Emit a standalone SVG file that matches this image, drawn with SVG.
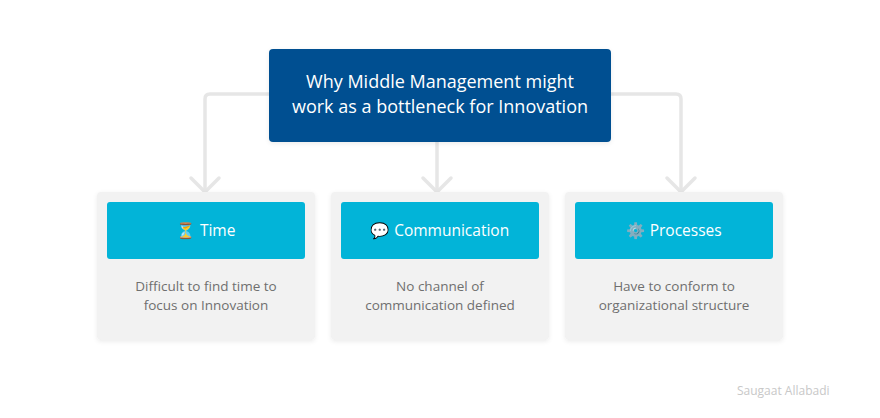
<svg xmlns="http://www.w3.org/2000/svg" width="880" height="418" viewBox="0 0 880 418">
  <defs>
    <filter id="shadow" x="-10%" y="-10%" width="120%" height="125%">
      <feDropShadow dx="0" dy="1.5" stdDeviation="2" flood-color="#000" flood-opacity="0.08"/>
    </filter>
    <marker id="chev" viewBox="-3 -3 20 34" refX="14" refY="14" markerWidth="20" markerHeight="34" markerUnits="userSpaceOnUse" orient="auto">
      <path d="M0,0 L14,14 L0,28" fill="none" stroke="#e6e6e6" stroke-width="3.5" stroke-linecap="round" stroke-linejoin="round"/>
    </marker>
    <style>
      .conn { fill: none; stroke: #e6e6e6; stroke-width: 3.5; stroke-linecap: round; stroke-linejoin: round; }
      .card { fill: #f2f2f2; filter: url(#shadow); }
      .head { fill: #02b4d8; }
      .title { font-family: "Open Sans", "Noto Sans", sans-serif; font-size: 18px; fill: #ffffff; text-anchor: middle; }
      .htext { font-family: "Open Sans", "Noto Sans", "Noto Color Emoji", sans-serif; font-size: 15.5px; fill: #ffffff; text-anchor: middle; }
      .body { font-family: "Open Sans", "Noto Sans", sans-serif; font-size: 13.5px; fill: #6f6f6f; text-anchor: middle; }
      .wm { font-family: "Open Sans", "Noto Sans", sans-serif; font-size: 12px; fill: #c8c8c8; }
    </style>
  </defs>
  <rect width="880" height="418" fill="#ffffff"/>

  <g id="connectors">
    <path class="conn" d="M269,94 L210,94 Q205,94 205,99 L205,192" marker-end="url(#chev)"/>
    <path class="conn" d="M437,142 L437,192" marker-end="url(#chev)"/>
    <path class="conn" d="M611,94 L676,94 Q681,94 681,99 L681,192" marker-end="url(#chev)"/>
  </g>

  <g id="root">
    <rect x="269" y="49" width="342" height="93" rx="4" fill="#034f91" filter="url(#shadow)"/>
    <text class="title" x="440" y="88">Why Middle Management might</text>
    <text class="title" x="440" y="113">work as a bottleneck for Innovation</text>
  </g>

  <g id="time">
    <rect class="card" x="97" y="192" width="218" height="148" rx="4"/>
    <rect class="head" x="107" y="202" width="198" height="57" rx="3"/>
    <text class="htext" x="206" y="236">⏳ Time</text>
    <text class="body" x="206" y="291">Difficult to find time to</text>
    <text class="body" x="206" y="310">focus on Innovation</text>
  </g>

  <g id="communication">
    <rect class="card" x="331" y="192" width="218" height="148" rx="4"/>
    <rect class="head" x="341" y="202" width="198" height="57" rx="3"/>
    <text class="htext" x="440" y="236">💬 Communication</text>
    <text class="body" x="440" y="291">No channel of</text>
    <text class="body" x="440" y="310">communication defined</text>
  </g>

  <g id="processes">
    <rect class="card" x="565" y="192" width="218" height="148" rx="4"/>
    <rect class="head" x="575" y="202" width="198" height="57" rx="3"/>
    <text class="htext" x="674" y="236">⚙️ Processes</text>
    <text class="body" x="674" y="291">Have to conform to</text>
    <text class="body" x="674" y="310">organizational structure</text>
  </g>

  <text class="wm" x="737" y="395">Saugaat Allabadi</text>
</svg>
